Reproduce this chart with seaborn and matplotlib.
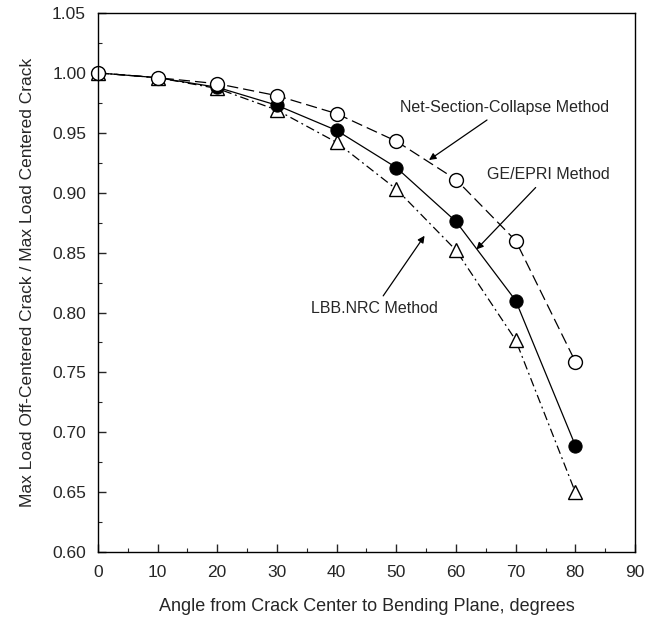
import matplotlib
matplotlib.use("Agg")
import matplotlib.pyplot as plt
import numpy as np
import seaborn as sns

# Data
angles = [0, 10, 20, 30, 40, 50, 60, 70, 80]
net_section = [1.000, 0.996, 0.991, 0.981, 0.966, 0.943, 0.911, 0.860, 0.759]
ge_epri = [1.000, 0.996, 0.988, 0.973, 0.952, 0.921, 0.876, 0.810, 0.689]
lbb_nrc = [1.000, 0.996, 0.987, 0.969, 0.942, 0.903, 0.852, 0.777, 0.650]

sns.set_style("ticks")
plt.rcParams['font.family'] = ['Liberation Sans', 'DejaVu Sans']

fig = plt.figure(figsize=(6.48, 6.19), dpi=100)
ax = fig.add_axes([0.151, 0.108, 0.829, 0.871])

# LBB.NRC - open triangles, dash-dot
sns.lineplot(x=angles, y=lbb_nrc, ax=ax, color='black', linewidth=0.9,
             linestyle=(0, (7, 3, 1.5, 3)), marker='^', markersize=10,
             markerfacecolor='white', markeredgecolor='black', markeredgewidth=1.0,
             clip_on=False)
# GE/EPRI - filled circles, solid
sns.lineplot(x=angles, y=ge_epri, ax=ax, color='black', linewidth=0.9,
             linestyle='-', marker='o', markersize=9.5,
             markerfacecolor='black', markeredgecolor='black', clip_on=False)
# Net-Section-Collapse - open circles, dashed
sns.lineplot(x=angles, y=net_section, ax=ax, color='black', linewidth=0.9,
             linestyle=(0, (9, 4)), marker='o', markersize=10,
             markerfacecolor='white', markeredgecolor='black', markeredgewidth=1.0,
             clip_on=False)

ax.set_xlim(0, 90)
ax.set_ylim(0.60, 1.05)
ax.set_xticks(np.arange(0, 91, 10))
ax.set_xticks(np.arange(0, 91, 5), minor=True)
ax.set_yticks(np.arange(0.60, 1.051, 0.05))
ax.set_yticks(np.arange(0.60, 1.051, 0.025), minor=True)
ax.yaxis.set_major_formatter(matplotlib.ticker.FormatStrFormatter('%.2f'))

ax.tick_params(which='major', direction='in', length=6, width=1, labelsize=12.5)
ax.tick_params(axis='y', which='major', pad=8.5)
ax.tick_params(axis='x', which='major', pad=9)
ax.tick_params(which='minor', direction='in', length=3, width=0.8)
ax.tick_params(top=False, right=False)
for s in ax.spines.values():
    s.set_linewidth(1.0)
    s.set_color('black')

ax.set_xlabel('Angle from Crack Center to Bending Plane, degrees', fontsize=13, labelpad=13)
ax.set_ylabel('Max Load Off-Centered Crack / Max Load Centered Crack', fontsize=12.5, labelpad=12)

arrow = dict(arrowstyle='-|>', color='black', lw=0.9, mutation_scale=10)
ax.annotate('Net-Section-Collapse Method', xy=(55.1, 0.926), xytext=(68.2, 0.971),
            ha='center', va='center', fontsize=11.5, arrowprops=arrow)
ax.annotate('GE/EPRI Method', xy=(63.1, 0.851), xytext=(75.4, 0.915),
            ha='center', va='center', fontsize=11.5, arrowprops=arrow)
ax.annotate('LBB.NRC Method', xy=(55.0, 0.866), xytext=(46.3, 0.803),
            ha='center', va='center', fontsize=11.5, arrowprops=arrow)

fig.savefig('out.png', dpi=100)
